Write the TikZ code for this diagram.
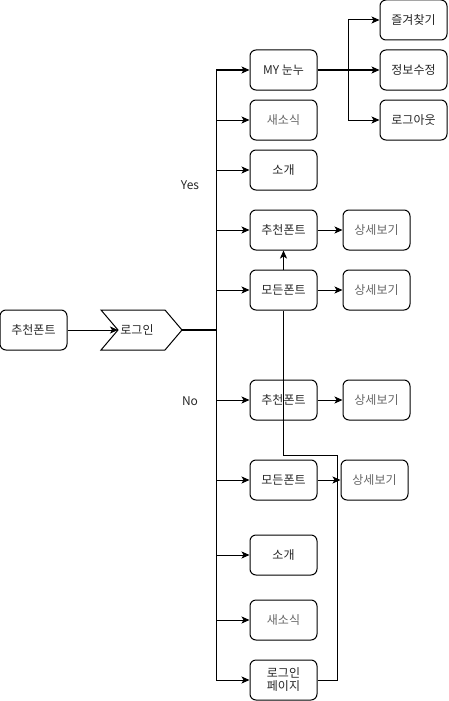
\documentclass[tikz,border=0pt]{standalone}
\usepackage{fontspec}
\setmainfont{Noto Sans CJK KR}
\usetikzlibrary{positioning,arrows.meta}

\tikzstyle{menu} = [rectangle, rounded corners=6pt, minimum width=67pt, minimum height=40pt, text centered, draw=black, line width=1pt, text=black!85, font=\fontsize{12}{14}\selectfont]
\tikzstyle{light} = [text=black!60]
\tikzstyle{arrow} = [line width=1pt,-{Stealth[length=8pt,width=7pt,inset=2pt]}]

\begin{document}
\begin{tikzpicture}[x=1pt, y=-1pt, node distance=25pt]
\useasboundingbox (0,0) rectangle (449,701);

\node (start) [menu] at (33.5,330) {추천폰트};
% step shape for login
\draw [line width=1pt] (101,310) -- (165,310) -- (182,330) -- (165,350) -- (101,350) -- (118,330) -- cycle;
\coordinate (login_in) at (118,330);
\coordinate (login_out) at (182,330);
\node (login) at (137,330) [font=\fontsize{12}{14}\selectfont, text=black!85] {로그인};
\coordinate (hub) at (216,330);

\node (yes) at (190,185) [font=\fontsize{12}{14}\selectfont, text=black!85] {Yes};
\node (no) at (190,401) [font=\fontsize{12}{14}\selectfont, text=black!85] {No};

% logged in
\node (my) [menu] at (283.5,70) {MY 눈누};
\node (news1) [menu, light] at (283.5,120) {새소식};
\node (intro1) [menu] at (283.5,170) {소개};
\node (rec1) [menu] at (283.5,230) {추천폰트};
\node (all1) [menu] at (283.5,290) {모든폰트};
\node (det1) [menu, light, right=of rec1] {상세보기};
\node (det2) [menu, light, right=of all1] {상세보기};

\node (fav) [menu] at (413.5,20) {즐겨찾기};
\node (edit) [menu] at (413.5,70) {정보수정};
\node (logout) [menu] at (413.5,120) {로그아웃};

% not logged in
\node (rec2) [menu] at (283.5,400) {추천폰트};
\node (all2) [menu] at (283.5,480) {모든폰트};
\node (intro2) [menu] at (283.5,555) {소개};
\node (news2) [menu, light] at (283.5,620) {새소식};
\node (lpage) [menu, align=center, font=\fontsize{12}{13}\selectfont] at (283.5,680) {로그인\\페이지};
\node (det3) [menu, light, right=of rec2] {상세보기};
\node (det4) [menu, light, right=23pt of all2] {상세보기};

\draw [arrow] (start) -- (login_in);
\draw [line width=1.6pt] (login_out) -- (hub);
\foreach \n in {my, news1, intro1, rec1, all1, rec2, all2, intro2, news2, lpage}
  \draw [arrow] (hub) |- (\n);

\coordinate (split) at (348,70);
\draw [line width=1.6pt] (my) -- (split);
\foreach \n in {fav, edit, logout}
  \draw [arrow] (split) |- (\n);

\draw [arrow] (rec1) -- (det1);
\draw [arrow] (all1) -- (det2);
\draw [arrow] (rec2) -- (det3);
\draw [arrow] (all2) -- (det4);

\coordinate (bend) at (337.5,455);
\draw [line width=1pt] (lpage) -| (bend) -| (all1);
\draw [arrow] (all1) -- (rec1);
\end{tikzpicture}
\end{document}
